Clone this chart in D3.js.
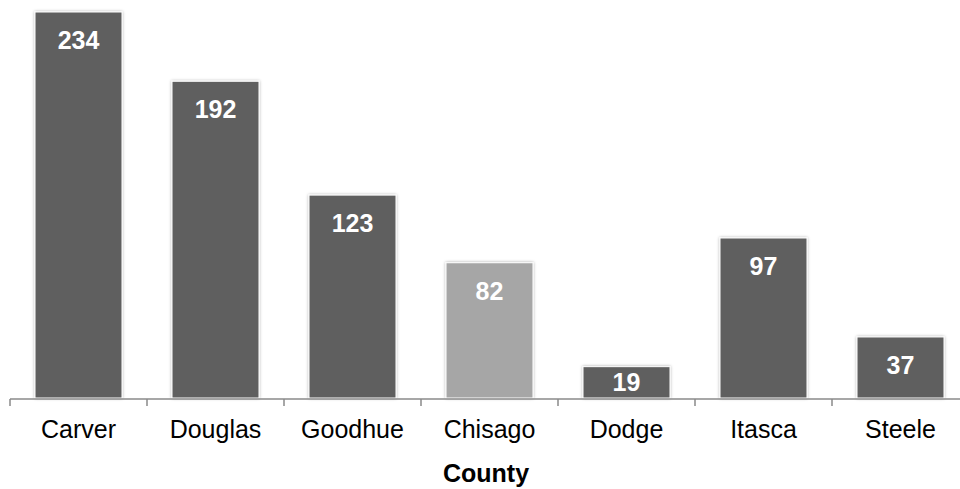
<!DOCTYPE html>
<html>
<head>
<meta charset="utf-8">
<script src="https://cdn.jsdelivr.net/npm/d3@7"></script>
<style>
  html, body { margin: 0; padding: 0; background: #fff; }
  svg { display: block; font-family: "Liberation Sans", Arial, sans-serif; }
</style>
</head>
<body>
<svg id="chart" width="960" height="489"></svg>
<script>
// County counts
const counties = ["Carver", "Douglas", "Goodhue", "Chisago", "Dodge", "Itasca", "Steele"];
const counts = [234, 192, 123, 82, 19, 97, 37];
const highlighted = ["Chisago"];
const axisTitle = "County";

const svg = d3.select("#chart");

const baseY = 398;
const x = d3.scaleBand()
  .domain(counties)
  .range([10, 969])
  .paddingInner(0.365)
  .paddingOuter(0.1825);
const y = d3.scaleLinear().domain([0, 234]).range([baseY, 12]);

const defs = svg.append("defs");
const f = defs.append("filter").attr("id", "glow")
  .attr("x", "-10%").attr("y", "-10%").attr("width", "120%").attr("height", "120%");
f.append("feDropShadow").attr("dx", 0).attr("dy", 0)
  .attr("stdDeviation", 1.4).attr("flood-color", "#000").attr("flood-opacity", 0.35);

const data = counties.map((c, i) => ({ county: c, value: counts[i] }));

// bars
svg.append("g").selectAll("rect").data(data).join("rect")
  .attr("x", d => x(d.county))
  .attr("y", d => y(d.value))
  .attr("width", x.bandwidth())
  .attr("height", d => baseY - y(d.value))
  .attr("fill", d => highlighted.includes(d.county) ? "#a6a6a6" : "#5f5f5f")
  .attr("stroke", "#ffffff")
  .attr("stroke-width", 1)
  .attr("filter", "url(#glow)");

// value labels inside the bar ends
svg.append("g").selectAll("text").data(data).join("text")
  .attr("x", d => x(d.county) + x.bandwidth() / 2)
  .attr("y", d => Math.min(y(d.value) + 37, (y(d.value) + baseY) / 2 + 9))
  .attr("text-anchor", "middle")
  .attr("fill", "#ffffff")
  .attr("font-weight", "bold")
  .attr("font-size", 25)
  .text(d => d.value);

// category axis
const axisY = 399;
const axis = svg.append("g").attr("transform", `translate(0,${axisY})`);
axis.append("line")
  .attr("x1", 10).attr("x2", 969).attr("y1", 0).attr("y2", 0)
  .attr("stroke", "#8a8a8a").attr("stroke-width", 1.5);
const half = x.step() * x.paddingInner() / 2;
axis.selectAll("line.tick").data(counties).join("line")
  .attr("class", "tick")
  .attr("x1", d => x(d) - half).attr("x2", d => x(d) - half)
  .attr("y1", 0).attr("y2", 7)
  .attr("stroke", "#8a8a8a").attr("stroke-width", 1.5);
axis.selectAll("text").data(counties).join("text")
  .attr("x", d => x(d) + x.bandwidth() / 2)
  .attr("y", 39)
  .attr("text-anchor", "middle")
  .attr("fill", "#000")
  .attr("font-size", 25)
  .text(d => d);

svg.append("text")
  .attr("x", 486)
  .attr("y", 482)
  .attr("text-anchor", "middle")
  .attr("font-weight", "bold")
  .attr("font-size", 25)
  .attr("fill", "#000")
  .text(axisTitle);
</script>
</body>
</html>
